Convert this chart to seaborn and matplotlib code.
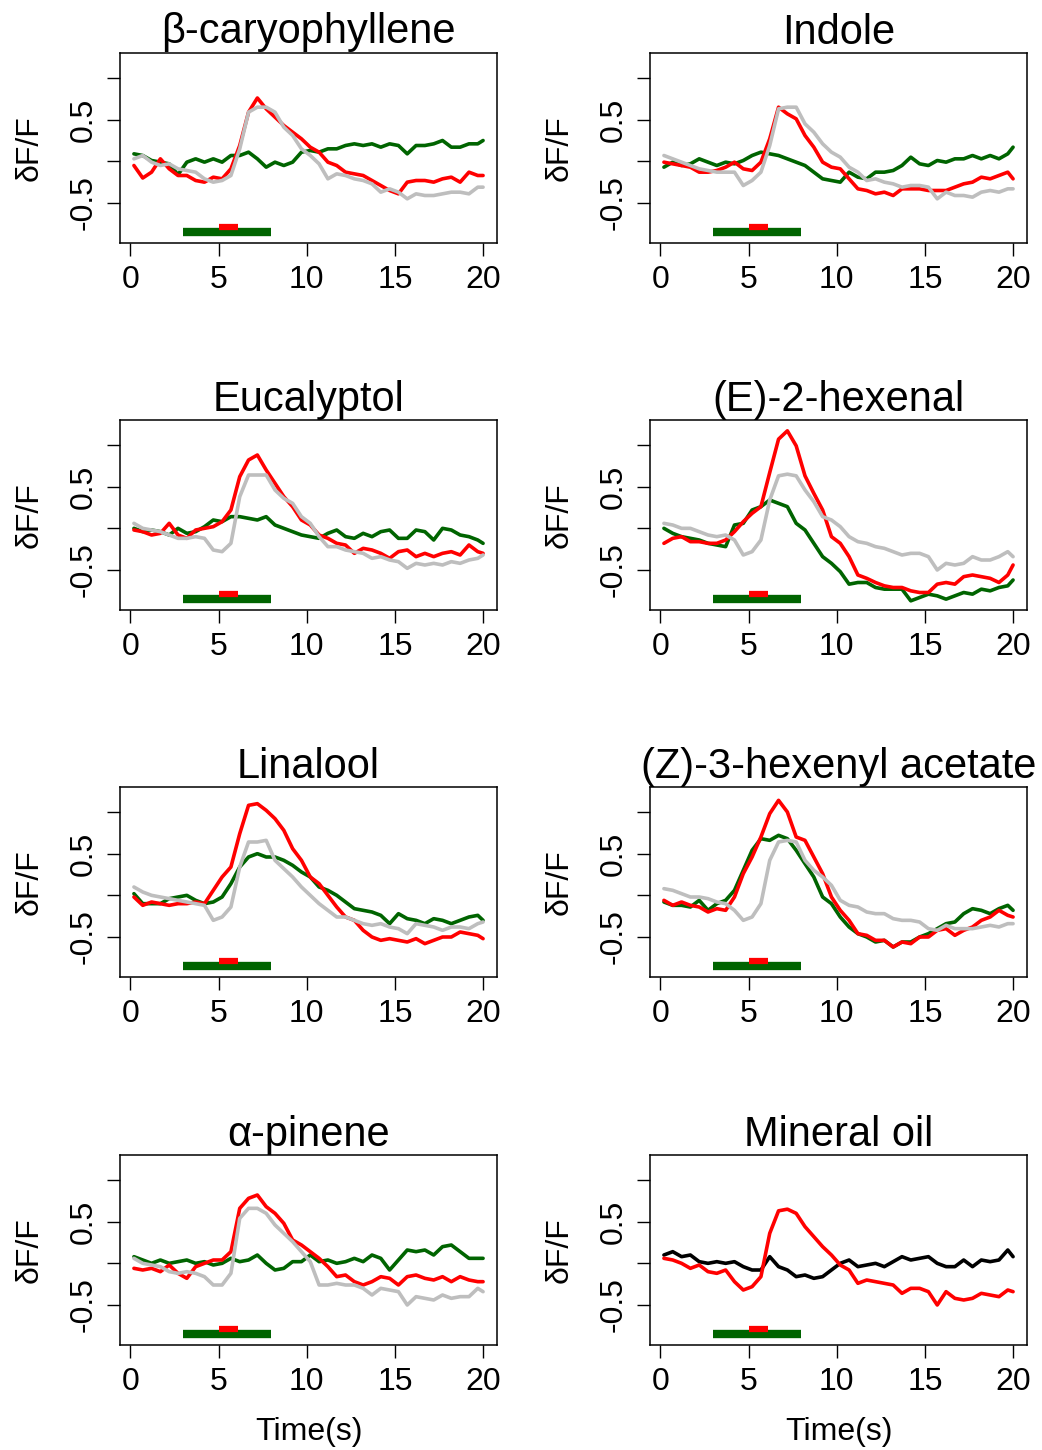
import numpy as np
import pandas as pd
import matplotlib
matplotlib.use("Agg")
import matplotlib.pyplot as plt
import seaborn as sns

# ---------------- data ----------------
time_s = np.append(np.arange(0.2, 19.8, 0.5), 20.0)  # 41 samples

titles = ["β-caryophyllene", "Indole", "Eucalyptol", "(E)-2-hexenal",
          "Linalool", "(Z)-3-hexenyl acetate", "α-pinene", "Mineral oil"]

caryo_red = [-0.05, -0.20, -0.13, 0.03, -0.09, -0.17, -0.17, -0.23, -0.25, -0.19, -0.21, -0.09, 0.19, 0.59, 0.76, 0.63, 0.53, 0.43, 0.35, 0.27, 0.17, 0.11, -0.01, -0.05, -0.13, -0.15, -0.17, -0.23, -0.29, -0.35, -0.39, -0.25, -0.23, -0.23, -0.25, -0.21, -0.19, -0.25, -0.13, -0.17, -0.17]
caryo_gray = [0.03, 0.07, -0.01, -0.05, -0.03, -0.09, -0.11, -0.13, -0.21, -0.25, -0.23, -0.17, 0.15, 0.59, 0.65, 0.65, 0.59, 0.41, 0.31, 0.15, 0.07, -0.03, -0.21, -0.15, -0.17, -0.21, -0.23, -0.27, -0.37, -0.33, -0.37, -0.45, -0.39, -0.41, -0.41, -0.39, -0.37, -0.37, -0.39, -0.31, -0.31]
caryo_green = [0.09, 0.07, 0.01, -0.01, -0.03, -0.16, -0.01, 0.03, -0.01, 0.03, -0.01, 0.07, 0.07, 0.11, 0.03, -0.07, -0.01, -0.05, -0.01, 0.11, 0.13, 0.11, 0.15, 0.15, 0.19, 0.21, 0.19, 0.21, 0.17, 0.21, 0.19, 0.09, 0.19, 0.19, 0.21, 0.25, 0.17, 0.17, 0.21, 0.21, 0.25]

indole_red = [-0.01, -0.03, -0.05, -0.07, -0.13, -0.13, -0.11, -0.07, -0.01, -0.09, -0.11, -0.01, 0.27, 0.65, 0.57, 0.51, 0.31, 0.17, -0.01, -0.07, -0.09, -0.21, -0.33, -0.35, -0.39, -0.37, -0.41, -0.33, -0.33, -0.33, -0.35, -0.35, -0.35, -0.31, -0.27, -0.25, -0.19, -0.21, -0.17, -0.13, -0.21]
indole_gray = [0.07, 0.03, -0.01, -0.05, -0.09, -0.11, -0.13, -0.13, -0.13, -0.29, -0.23, -0.13, 0.19, 0.63, 0.65, 0.65, 0.45, 0.35, 0.21, 0.11, 0.05, -0.07, -0.13, -0.23, -0.21, -0.25, -0.27, -0.31, -0.29, -0.29, -0.31, -0.45, -0.37, -0.41, -0.41, -0.43, -0.37, -0.35, -0.37, -0.33, -0.33]
indole_green = [-0.07, -0.01, -0.05, -0.03, 0.03, -0.01, -0.05, -0.01, -0.03, 0.01, 0.07, 0.11, 0.09, 0.07, 0.03, -0.01, -0.05, -0.13, -0.21, -0.23, -0.25, -0.13, -0.19, -0.21, -0.13, -0.13, -0.11, -0.05, 0.05, -0.03, -0.05, 0.01, -0.01, 0.03, 0.03, 0.07, 0.03, 0.07, 0.03, 0.09, 0.17]

euca_red = [-0.02, -0.04, -0.08, -0.06, 0.06, -0.08, -0.12, -0.02, 0.00, 0.02, 0.08, 0.22, 0.62, 0.82, 0.88, 0.70, 0.54, 0.38, 0.26, 0.10, 0.04, -0.08, -0.12, -0.18, -0.20, -0.30, -0.24, -0.26, -0.30, -0.36, -0.28, -0.26, -0.34, -0.30, -0.34, -0.30, -0.28, -0.32, -0.20, -0.28, -0.30]
euca_gray = [0.06, 0.00, -0.02, -0.04, -0.08, -0.12, -0.12, -0.10, -0.12, -0.26, -0.28, -0.18, 0.38, 0.64, 0.64, 0.64, 0.46, 0.36, 0.30, 0.14, 0.06, -0.10, -0.22, -0.22, -0.26, -0.28, -0.30, -0.36, -0.34, -0.38, -0.40, -0.48, -0.42, -0.44, -0.42, -0.44, -0.40, -0.42, -0.38, -0.36, -0.32]
euca_green = [0.00, -0.04, -0.02, -0.04, -0.08, 0.00, -0.06, -0.04, 0.02, 0.10, 0.08, 0.14, 0.14, 0.12, 0.10, 0.14, 0.04, 0.00, -0.04, -0.08, -0.10, -0.12, -0.06, -0.02, -0.10, -0.12, -0.06, -0.10, -0.04, -0.02, -0.12, -0.12, -0.02, -0.04, -0.14, 0.00, -0.02, -0.08, -0.10, -0.14, -0.18]

hexenal_red = [-0.18, -0.12, -0.10, -0.16, -0.16, -0.18, -0.18, -0.14, -0.04, 0.08, 0.18, 0.26, 0.67, 1.07, 1.17, 0.99, 0.63, 0.42, 0.22, -0.10, -0.18, -0.34, -0.56, -0.60, -0.65, -0.69, -0.71, -0.71, -0.75, -0.77, -0.77, -0.67, -0.65, -0.67, -0.58, -0.56, -0.58, -0.60, -0.65, -0.56, -0.44]
hexenal_gray = [0.06, 0.04, 0.00, 0.00, -0.04, -0.08, -0.10, -0.08, -0.14, -0.32, -0.28, -0.14, 0.34, 0.63, 0.65, 0.63, 0.46, 0.32, 0.14, 0.10, 0.02, -0.10, -0.16, -0.18, -0.22, -0.24, -0.28, -0.32, -0.30, -0.30, -0.34, -0.50, -0.42, -0.44, -0.42, -0.34, -0.38, -0.38, -0.34, -0.28, -0.34]
hexenal_green = [0.00, -0.06, -0.10, -0.12, -0.14, -0.18, -0.20, -0.22, 0.04, 0.06, 0.22, 0.26, 0.34, 0.30, 0.26, 0.06, -0.02, -0.18, -0.34, -0.42, -0.52, -0.67, -0.65, -0.65, -0.71, -0.73, -0.73, -0.73, -0.87, -0.83, -0.79, -0.81, -0.85, -0.81, -0.77, -0.79, -0.73, -0.75, -0.71, -0.69, -0.62]

linalool_red = [-0.02, -0.12, -0.08, -0.10, -0.12, -0.10, -0.10, -0.08, -0.10, 0.06, 0.22, 0.34, 0.74, 1.08, 1.10, 1.02, 0.92, 0.78, 0.56, 0.42, 0.22, 0.14, 0.00, -0.14, -0.26, -0.30, -0.42, -0.50, -0.54, -0.52, -0.54, -0.56, -0.52, -0.58, -0.54, -0.50, -0.50, -0.44, -0.46, -0.48, -0.52]
linalool_gray = [0.10, 0.04, 0.00, -0.02, -0.04, -0.06, -0.08, -0.10, -0.12, -0.30, -0.26, -0.14, 0.34, 0.64, 0.64, 0.66, 0.42, 0.32, 0.22, 0.10, 0.00, -0.10, -0.18, -0.26, -0.26, -0.30, -0.34, -0.36, -0.34, -0.38, -0.40, -0.46, -0.34, -0.36, -0.38, -0.42, -0.38, -0.38, -0.40, -0.34, -0.32]
linalool_green = [0.02, -0.10, -0.10, -0.10, -0.04, -0.02, 0.00, -0.06, -0.10, -0.08, -0.02, 0.14, 0.34, 0.46, 0.50, 0.46, 0.46, 0.42, 0.36, 0.28, 0.22, 0.10, 0.06, 0.00, -0.08, -0.16, -0.18, -0.20, -0.24, -0.34, -0.22, -0.28, -0.30, -0.34, -0.28, -0.30, -0.34, -0.30, -0.26, -0.24, -0.30]

hexacet_red = [-0.06, -0.12, -0.08, -0.12, -0.14, -0.20, -0.16, -0.18, -0.02, 0.26, 0.46, 0.70, 0.98, 1.14, 1.00, 0.70, 0.66, 0.46, 0.26, -0.02, -0.18, -0.30, -0.46, -0.48, -0.54, -0.54, -0.62, -0.56, -0.58, -0.50, -0.50, -0.42, -0.40, -0.48, -0.42, -0.38, -0.30, -0.26, -0.18, -0.24, -0.26]
hexacet_gray = [0.08, 0.06, 0.02, -0.02, -0.02, -0.04, -0.08, -0.10, -0.18, -0.30, -0.26, -0.10, 0.42, 0.64, 0.66, 0.64, 0.42, 0.30, 0.22, 0.12, -0.06, -0.12, -0.14, -0.20, -0.22, -0.22, -0.28, -0.30, -0.30, -0.32, -0.40, -0.42, -0.36, -0.40, -0.40, -0.40, -0.38, -0.36, -0.38, -0.34, -0.34]
hexacet_green = [-0.08, -0.12, -0.12, -0.14, -0.06, -0.18, -0.10, -0.06, 0.06, 0.30, 0.54, 0.68, 0.66, 0.72, 0.68, 0.54, 0.38, 0.22, -0.02, -0.10, -0.26, -0.38, -0.46, -0.50, -0.56, -0.54, -0.62, -0.56, -0.56, -0.50, -0.46, -0.40, -0.34, -0.32, -0.22, -0.16, -0.18, -0.22, -0.16, -0.12, -0.18]

pinene_red = [-0.06, -0.08, -0.06, -0.10, -0.02, -0.12, -0.18, -0.04, 0.00, 0.04, 0.04, 0.14, 0.66, 0.78, 0.82, 0.68, 0.60, 0.48, 0.28, 0.22, 0.14, 0.06, -0.04, -0.16, -0.14, -0.22, -0.26, -0.22, -0.16, -0.18, -0.26, -0.16, -0.14, -0.18, -0.20, -0.16, -0.22, -0.16, -0.20, -0.22, -0.22]
pinene_gray = [0.06, 0.00, -0.02, -0.04, -0.10, -0.12, -0.10, -0.12, -0.16, -0.26, -0.26, -0.12, 0.54, 0.66, 0.66, 0.60, 0.46, 0.36, 0.26, 0.14, 0.02, -0.26, -0.26, -0.24, -0.26, -0.26, -0.30, -0.38, -0.30, -0.32, -0.34, -0.50, -0.40, -0.42, -0.44, -0.38, -0.42, -0.40, -0.40, -0.30, -0.34]
pinene_green = [0.08, 0.04, 0.00, 0.04, 0.00, 0.02, 0.04, 0.00, 0.02, -0.02, 0.00, 0.06, 0.02, 0.04, 0.10, 0.00, -0.08, -0.06, 0.02, 0.02, 0.10, 0.02, 0.04, 0.00, 0.02, 0.06, 0.02, 0.10, 0.06, -0.08, 0.04, 0.16, 0.14, 0.16, 0.10, 0.20, 0.22, 0.14, 0.06, 0.06, 0.06]

oil_red = [0.06, 0.04, 0.00, -0.06, -0.02, -0.10, -0.12, -0.08, -0.22, -0.32, -0.28, -0.16, 0.36, 0.63, 0.65, 0.60, 0.44, 0.32, 0.20, 0.10, -0.02, -0.08, -0.24, -0.20, -0.22, -0.24, -0.26, -0.36, -0.30, -0.30, -0.34, -0.50, -0.34, -0.42, -0.44, -0.42, -0.36, -0.38, -0.40, -0.32, -0.34]
oil_black = [0.10, 0.14, 0.08, 0.10, 0.02, 0.00, 0.02, 0.00, 0.02, -0.04, -0.08, -0.08, 0.08, -0.04, -0.08, -0.16, -0.14, -0.18, -0.16, -0.08, 0.00, 0.04, -0.04, -0.02, 0.00, -0.04, 0.02, 0.08, 0.04, 0.06, 0.08, 0.00, -0.04, -0.04, 0.04, -0.04, 0.04, 0.02, 0.04, 0.16, 0.08]

odor_window = [3.0, 8.0]      # green stimulus bar (s)
pulse_window = [5.0, 6.1]     # red stimulus bar (s)
odor_level = -0.85
pulse_level = -0.79

# --------------- assemble ---------------
panel_traces = [
    [("green", caryo_green), ("red", caryo_red), ("gray", caryo_gray)],
    [("green", indole_green), ("red", indole_red), ("gray", indole_gray)],
    [("green", euca_green), ("red", euca_red), ("gray", euca_gray)],
    [("green", hexenal_green), ("red", hexenal_red), ("gray", hexenal_gray)],
    [("green", linalool_green), ("red", linalool_red), ("gray", linalool_gray)],
    [("green", hexacet_green), ("red", hexacet_red), ("gray", hexacet_gray)],
    [("green", pinene_green), ("red", pinene_red), ("gray", pinene_gray)],
    [("black", oil_black), ("red", oil_red)],
]
colors = {"green": "#006400", "red": "#FF0000", "gray": "#BEBEBE", "black": "#000000"}

sns.set_style("ticks")
plt.rcParams["font.family"] = ["Liberation Sans", "DejaVu Sans"]
plt.rcParams["text.color"] = "black"
plt.rcParams["axes.labelcolor"] = "black"
plt.rcParams["xtick.color"] = "black"
plt.rcParams["ytick.color"] = "black"

W, H = 1042, 1450
fig = plt.figure(figsize=(W / 100, H / 100), dpi=100)
col_left = [120, 650]
row_top = [53, 420, 787, 1155]
box_w, box_h = 377, 190
title_pads = [7, 1, 2, 2, 1, 4, 4, 0]

for i, (title, traces) in enumerate(zip(titles, panel_traces)):
    r, c = divmod(i, 2)
    ax = fig.add_axes([col_left[c] / W, 1 - (row_top[r] + box_h) / H, box_w / W, box_h / H])
    for name, vals in traces:
        df = pd.DataFrame({"t": time_s, "dff": vals})
        sns.lineplot(data=df, x="t", y="dff", ax=ax, color=colors[name],
                     lw=2.6, estimator=None, sort=False, legend=False)
    ax.plot(odor_window, [odor_level, odor_level], color=colors["green"], lw=6,
            solid_capstyle="butt")
    ax.plot(pulse_window, [pulse_level, pulse_level], color=colors["red"], lw=4.5,
            solid_capstyle="butt")
    ax.set_xlim(-0.59, 20.79)
    ax.set_ylim(-0.98, 1.30)
    ax.set_xticks([0, 5, 10, 15, 20])
    ax.set_yticks([-0.5, 0.0, 0.5, 1.0])
    ax.set_yticklabels(["-0.5", "", "0.5", ""])
    ax.tick_params(axis="both", direction="out", length=9.5, width=1.0,
                   labelsize=23, color="black", labelcolor="black")
    ax.tick_params(axis="x", pad=6.5)
    ax.tick_params(axis="y", pad=6)
    for lab in ax.get_yticklabels():
        lab.set_rotation(90)
        lab.set_va("center")
    for sp in ax.spines.values():
        sp.set_visible(True)
        sp.set_linewidth(1.1)
        sp.set_color("black")
    ax.set_title(title, fontsize=30, pad=title_pads[i], color="black")
    ax.set_ylabel("δF/F", fontsize=23, labelpad=17)
    if r == 3:
        ax.set_xlabel("Time(s)", fontsize=23, labelpad=14)
    else:
        ax.set_xlabel("")

fig.savefig("out.png", dpi=100, facecolor="white")
